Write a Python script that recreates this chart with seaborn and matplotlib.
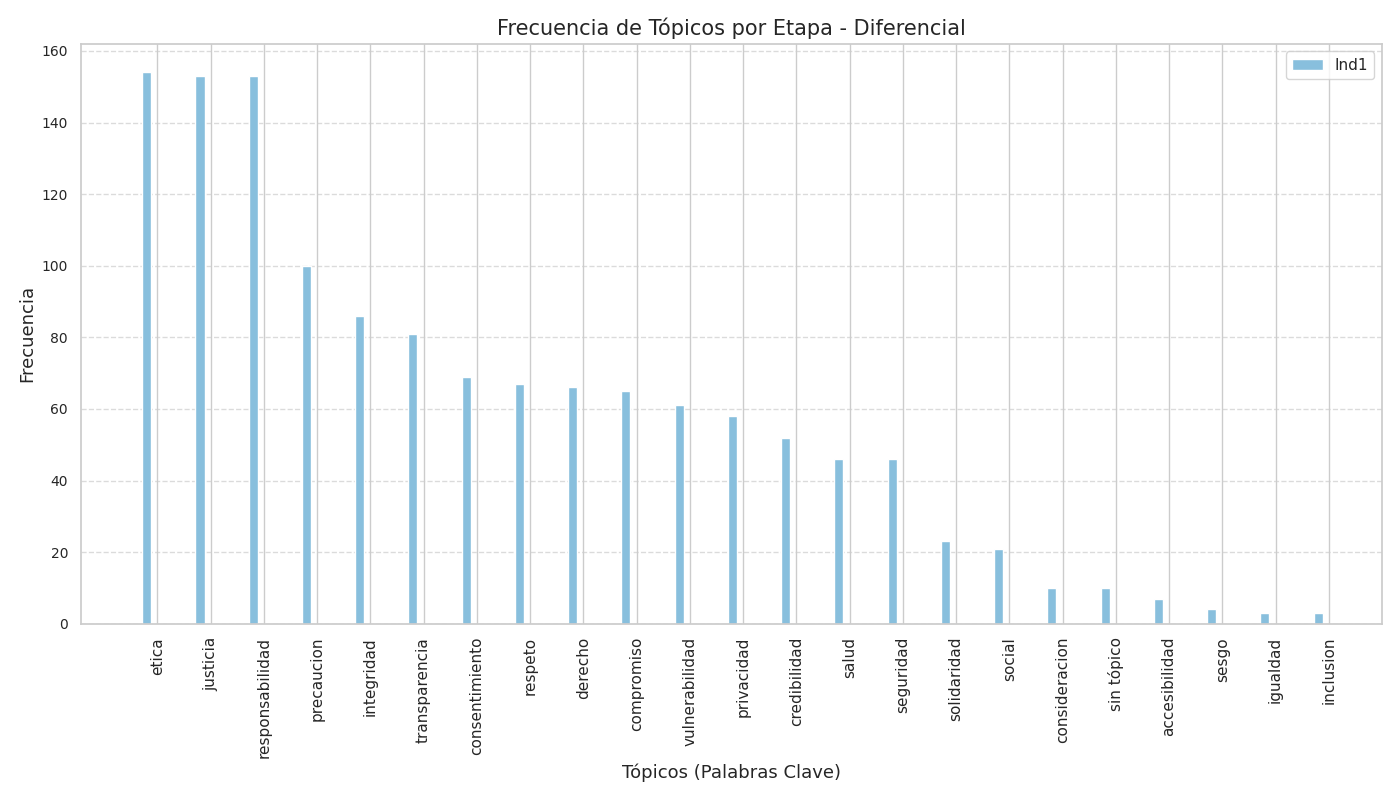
import numpy as np
import matplotlib
matplotlib.use("Agg")
import matplotlib.pyplot as plt
import seaborn as sns

topicos = ["etica", "justicia", "responsabilidad", "precaucion", "integridad", "transparencia",
           "consentimiento", "respeto", "derecho", "compromiso", "vulnerabilidad", "privacidad",
           "credibilidad", "salud", "seguridad", "solidaridad", "social", "consideracion",
           "sin tópico", "accesibilidad", "sesgo", "igualdad", "inclusion"]
ind1 = [154, 153, 153, 100, 86, 81, 69, 67, 66, 65, 61, 58, 52, 46, 46, 23, 21, 10, 10, 7, 4, 3, 3]

sns.set_theme(style="whitegrid")
fig, ax = plt.subplots(figsize=(14, 8), dpi=100)
x = np.arange(len(topicos))
ax.bar(x - 0.2, ind1, width=0.17, color="#88bfdd", label="Ind1")
ax.set_xticks(x)
ax.set_xticklabels(topicos, rotation=90, fontsize=11)
ax.tick_params(axis="y", labelsize=10)
ax.set_xlim(-1.43, 23.0)
ax.set_ylim(0, 162)
ax.yaxis.grid(True, linestyle="--", alpha=0.7)
ax.xaxis.grid(True)
ax.set_title("Frecuencia de Tópicos por Etapa - Diferencial", fontsize=15)
ax.set_xlabel("Tópicos (Palabras Clave)", fontsize=13)
ax.set_ylabel("Frecuencia", fontsize=13)
ax.legend(loc="upper right", fontsize=11)
plt.tight_layout()
plt.savefig("out.png")
